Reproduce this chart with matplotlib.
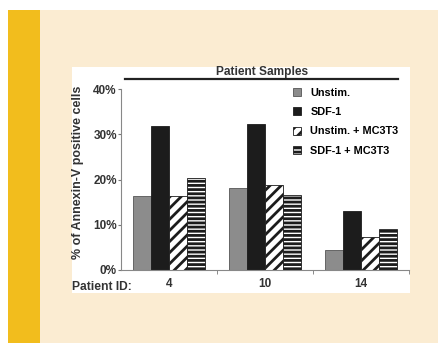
import numpy as np
import matplotlib
matplotlib.use("Agg")
import matplotlib.pyplot as plt
from matplotlib.patches import Rectangle, Patch
from matplotlib.lines import Line2D

patients = ["4", "10", "14"]
series = ["Unstim.", "SDF-1", "Unstim. + MC3T3", "SDF-1 + MC3T3"]
unstim = [16.4, 18.2, 4.4]
sdf1 = [31.9, 32.2, 13.0]
unstim_mc3t3 = [16.4, 18.8, 7.2]
sdf1_mc3t3 = [20.3, 16.5, 9.1]
yticks = [0, 10, 20, 30, 40]

W, H = 438, 343
plt.rcParams['font.family'] = ['Liberation Sans', 'DejaVu Sans']
plt.rcParams['hatch.linewidth'] = 2.0

fig = plt.figure(figsize=(W / 100, H / 100), dpi=100)
fig.patch.set_facecolor("white")

def box(x0, y0, x1, y1, color):
    # pixel coords, y from top
    fig.patches.append(Rectangle((x0 / W, 1 - y1 / H), (x1 - x0) / W, (y1 - y0) / H,
                                 transform=fig.transFigure, facecolor=color,
                                 edgecolor="none", zorder=-10))

box(8, 10, 40, H, "#f2bd1d")
box(40, 10, W, H, "#fbecd2")
box(72, 67, 410, 293, "white")

# axes: x from 121 to 409, y from 89 (40%) to 270 (0%)
ax = fig.add_axes([121 / W, 1 - 270 / H, (409 - 121) / W, (270 - 89) / H])
ax.set_facecolor("none")

x = np.arange(len(patients))
bw = 0.1875
styles = [
    dict(facecolor="#8c8c8c", edgecolor="#555555", hatch=None),
    dict(facecolor="#1c1c1c", edgecolor="#1c1c1c", hatch=None),
    dict(facecolor="white", edgecolor="#1c1c1c", hatch="///"),
    dict(facecolor="white", edgecolor="#1c1c1c", hatch="----"),
]
data = [unstim, sdf1, unstim_mc3t3, sdf1_mc3t3]
for i, (vals, st) in enumerate(zip(data, styles)):
    ax.bar(x + (i - 1.5) * bw, vals, width=bw, linewidth=0.6, **st)

txt = dict(fontweight="bold", color="#333333")
ax.set_xlim(-0.5, 2.5)
ax.set_ylim(0, 40)
ax.set_yticks(yticks)
ax.set_yticklabels([f"{v}%" for v in yticks], fontsize=8.5, **txt)
ax.set_xticks(x)
ax.set_xticklabels(patients, fontsize=8.5, **txt)
ax.tick_params(axis="x", length=0, pad=6)
ax.set_xticks([0.5, 1.5, 2.5], minor=True)
ax.tick_params(axis="x", which="minor", length=3, color="#777777", direction="out")
ax.tick_params(axis="y", length=2, color="#777777", pad=1)
for s in ["top", "right"]:
    ax.spines[s].set_visible(False)
for s in ["left", "bottom"]:
    ax.spines[s].set_color("#888888")
    ax.spines[s].set_linewidth(0.8)

fig.text(78 / W, 1 - 172 / H, "% of Annexin-V positive cells", fontsize=9,
         rotation=90, ha="center", va="center", **txt)

fig.text(72 / W, 1 - 287 / H, "Patient ID:", fontsize=8.7, ha="left", va="center", **txt)

fig.lines.append(Line2D([125 / W, 398 / W], [1 - 79 / H, 1 - 79 / H],
                        transform=fig.transFigure, color="#222222", linewidth=1.6))
fig.text(262 / W, 1 - 72 / H, "Patient Samples", fontsize=8.6, ha="center", va="center", **txt)

handles = [Patch(linewidth=0.6, **st) for st in styles]
fig.legend(handles, series, loc="upper left", bbox_to_anchor=(293 / W, 1 - 88 / H),
           frameon=False, handlelength=0.75, handleheight=0.75,
           handletextpad=0.85, labelspacing=0.85, borderpad=0, borderaxespad=0,
           prop=dict(weight="bold", size=7.8))

fig.savefig("out.png", dpi=100, facecolor=fig.get_facecolor())
